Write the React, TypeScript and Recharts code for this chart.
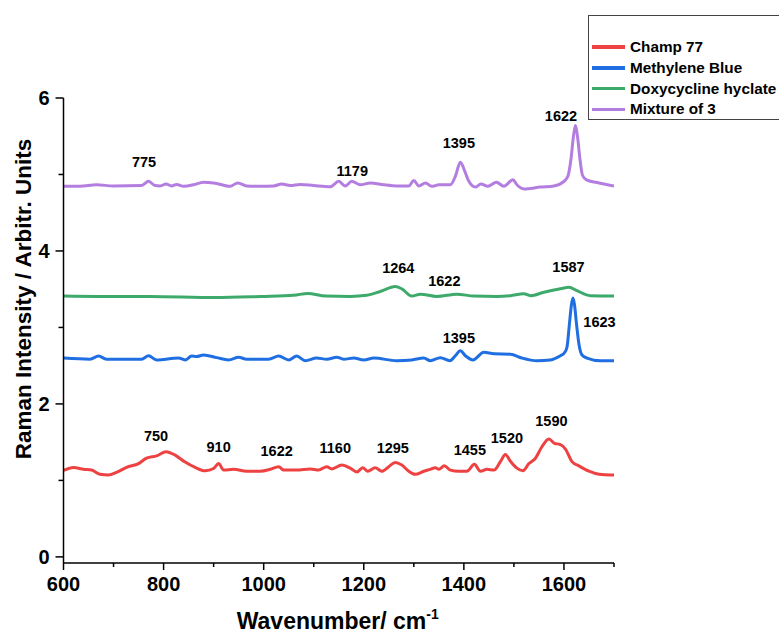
import React from 'react';
import { LineChart, Line, XAxis, YAxis, ReferenceDot } from 'recharts';

// Champ 77
const redWave = [600, 620, 640, 656, 673, 690, 706, 726, 750, 766, 786, 805, 823, 843, 863, 883, 900, 910, 920, 940, 966, 993, 1013, 1030, 1040, 1066, 1093, 1110, 1126, 1136, 1156, 1173, 1186, 1198, 1208, 1223, 1236, 1250, 1263, 1276, 1290, 1303, 1320, 1333, 1343, 1350, 1361, 1373, 1390, 1406, 1421, 1433, 1446, 1460, 1473, 1483, 1493, 1506, 1518, 1530, 1543, 1556, 1570, 1581, 1592, 1603, 1616, 1630, 1650, 1670, 1693, 1700];
const redInt = [1.13, 1.17, 1.145, 1.135, 1.08, 1.07, 1.105, 1.17, 1.22, 1.29, 1.32, 1.375, 1.33, 1.24, 1.17, 1.125, 1.155, 1.22, 1.135, 1.145, 1.12, 1.12, 1.145, 1.18, 1.135, 1.135, 1.15, 1.135, 1.18, 1.15, 1.2, 1.16, 1.11, 1.165, 1.12, 1.165, 1.12, 1.18, 1.235, 1.2, 1.12, 1.08, 1.12, 1.145, 1.165, 1.145, 1.19, 1.135, 1.12, 1.12, 1.21, 1.12, 1.145, 1.135, 1.245, 1.34, 1.25, 1.16, 1.125, 1.22, 1.29, 1.44, 1.54, 1.485, 1.47, 1.41, 1.245, 1.19, 1.12, 1.08, 1.07, 1.07];

// Methylene Blue
const blueWave = [600, 653, 670, 686, 756, 770, 786, 830, 843, 856, 866, 880, 906, 930, 950, 966, 1010, 1030, 1050, 1066, 1083, 1106, 1126, 1146, 1160, 1180, 1200, 1220, 1266, 1296, 1320, 1333, 1353, 1372, 1383, 1393, 1403, 1418, 1440, 1460, 1493, 1516, 1546, 1573, 1593, 1600, 1606, 1611, 1615, 1618, 1621, 1625, 1630, 1636, 1646, 1673, 1700];
const blueInt = [2.6, 2.585, 2.625, 2.585, 2.585, 2.63, 2.575, 2.6, 2.575, 2.625, 2.62, 2.64, 2.605, 2.575, 2.61, 2.585, 2.585, 2.625, 2.575, 2.625, 2.565, 2.6, 2.585, 2.61, 2.585, 2.6, 2.575, 2.6, 2.565, 2.575, 2.6, 2.565, 2.605, 2.565, 2.63, 2.695, 2.63, 2.575, 2.675, 2.655, 2.65, 2.6, 2.565, 2.575, 2.63, 2.66, 2.74, 3.05, 3.3, 3.385, 3.3, 3.05, 2.78, 2.64, 2.6, 2.565, 2.565];

// Doxycycline hyclate
const greenWave = [600, 665, 772, 902, 995, 1060, 1088, 1124, 1173, 1206, 1233, 1263, 1276, 1296, 1313, 1346, 1386, 1420, 1466, 1493, 1520, 1533, 1560, 1593, 1610, 1626, 1653, 1700];
const greenInt = [3.41, 3.405, 3.405, 3.39, 3.405, 3.42, 3.445, 3.41, 3.405, 3.42, 3.47, 3.535, 3.505, 3.41, 3.435, 3.405, 3.435, 3.41, 3.405, 3.415, 3.44, 3.415, 3.46, 3.505, 3.525, 3.48, 3.415, 3.41];

// Mixture of 3
const purpleWave = [600, 633, 666, 700, 756, 770, 783, 793, 805, 816, 826, 840, 860, 880, 900, 933, 948, 966, 993, 1020, 1036, 1053, 1073, 1100, 1133, 1150, 1163, 1176, 1193, 1213, 1240, 1266, 1290, 1300, 1310, 1323, 1336, 1350, 1373, 1383, 1393, 1402, 1410, 1423, 1434, 1448, 1465, 1480, 1498, 1506, 1520, 1553, 1580, 1600, 1608, 1614, 1619, 1623, 1627, 1632, 1637, 1645, 1666, 1700];
const purpleInt = [4.845, 4.845, 4.865, 4.85, 4.855, 4.91, 4.855, 4.85, 4.875, 4.85, 4.87, 4.845, 4.865, 4.9, 4.89, 4.845, 4.89, 4.85, 4.845, 4.85, 4.875, 4.855, 4.87, 4.855, 4.84, 4.91, 4.85, 4.91, 4.865, 4.89, 4.865, 4.85, 4.85, 4.92, 4.85, 4.89, 4.845, 4.865, 4.865, 4.975, 5.16, 5.04, 4.91, 4.835, 4.875, 4.845, 4.9, 4.845, 4.93, 4.865, 4.81, 4.835, 4.85, 4.91, 4.98, 5.2, 5.5, 5.64, 5.5, 5.2, 4.99, 4.93, 4.895, 4.85];

const seriesNames = ['Champ 77', 'Methylene Blue', 'Doxycycline hyclate', 'Mixture of 3'];
const seriesColors = ['#ee4242', '#1f6fe3', '#3daa6c', '#b47ee0'];

const xTicks = [600, 700, 800, 900, 1000, 1100, 1200, 1300, 1400, 1500, 1600, 1700];
const yTicks = [0, 1, 2, 3, 4, 5, 6];

// peak annotations: text, and where it sits (wavenumber, intensity)
const peakText = ['775', '1179', '1395', '1622', '1264', '1622', '1587', '1395', '1623', '750', '910', '1622', '1160', '1295', '1455', '1520', '1590'];
const peakWave = [761, 1177, 1390, 1594, 1269, 1361, 1609, 1390, 1671, 785, 910, 1026, 1143, 1258, 1412, 1486, 1575];
const peakHeight = [5.17, 5.05, 5.41, 5.77, 3.78, 3.61, 3.79, 2.87, 3.07, 1.58, 1.44, 1.38, 1.43, 1.43, 1.4, 1.55, 1.78];

const font = '"Liberation Sans", Arial, sans-serif';

const toPoints = (w: number[], v: number[]) => w.map((x, i) => ({ x, y: v[i] }));
const series = [
  toPoints(redWave, redInt),
  toPoints(blueWave, blueInt),
  toPoints(greenWave, greenInt),
  toPoints(purpleWave, purpleInt),
];

const XTick = (props: any) => {
  const { x, y, payload } = props;
  const major = payload.value % 200 === 0;
  return (
    <g>
      <line x1={x} x2={x} y1={y} y2={y + (major ? 7 : 4)} stroke="#000" strokeWidth={1.5} />
      {major && (
        <text x={x} y={y + 28} textAnchor="middle" fontSize={20} fontWeight={700} fontFamily={font} fill="#000">
          {payload.value}
        </text>
      )}
    </g>
  );
};

const YTick = (props: any) => {
  const { x, y, payload } = props;
  const major = payload.value % 2 === 0;
  return (
    <g>
      <line x1={x} x2={x - (major ? 8 : 5)} y1={y} y2={y} stroke="#000" strokeWidth={1.5} />
      {major && (
        <text x={x - 14} y={y + 7} textAnchor="end" fontSize={20} fontWeight={700} fontFamily={font} fill="#000">
          {payload.value}
        </text>
      )}
    </g>
  );
};

const XTitle = (props: any) => {
  const { x, width } = props.viewBox;
  return (
    <text x={x + width / 2 - 1} y={629} textAnchor="middle" fontSize={23} fontWeight={700} fontFamily={font} fill="#000">
      Wavenumber/ cm
      <tspan fontSize={14} dy={-10}>-1</tspan>
    </text>
  );
};

const YTitle = () => {
  const cy = 299;
  return (
    <text x={31} y={cy} transform={`rotate(-90, 31, ${cy})`} textAnchor="middle" fontSize={22.5} fontWeight={700} fontFamily={font} fill="#000">
      Raman Intensity / Arbitr. Units
    </text>
  );
};

const App: React.FC = () => {
  return (
    <div style={{ position: 'absolute', left: 0, top: 0, width: 779, height: 635, overflow: 'hidden', background: '#fff' }}>
      <LineChart width={779} height={635} margin={{ top: 98, right: 165, bottom: 42, left: 0 }}>
        <XAxis
          type="number"
          dataKey="x"
          domain={[600, 1700]}
          ticks={xTicks}
          interval={0}
          allowDataOverflow
          tickSize={0}
          tickMargin={0}
          tick={<XTick />}
          axisLine={{ stroke: '#000', strokeWidth: 1.5 }}
          height={30}
          label={{ content: <XTitle /> }}
        />
        <YAxis
          type="number"
          domain={[-0.08, 6]}
          ticks={yTicks}
          interval={0}
          allowDataOverflow
          tickSize={0}
          tickMargin={0}
          tick={<YTick />}
          axisLine={{ stroke: '#000', strokeWidth: 1.5 }}
          width={63.5}
          label={{ content: <YTitle /> }}
        />
        {series.map((d, i) => (
          <Line
            key={seriesNames[i]}
            data={d}
            dataKey="y"
            name={seriesNames[i]}
            type="monotone"
            stroke={seriesColors[i]}
            strokeWidth={3}
            dot={false}
            activeDot={false}
            isAnimationActive={false}
          />
        ))}
        {peakText.map((t, i) => (
          <ReferenceDot
            key={i}
            x={peakWave[i]}
            y={peakHeight[i]}
            r={0}
            fill="none"
            stroke="none"
            label={{ value: t, position: 'center', fill: '#000', fontSize: 14.5, fontWeight: 700, fontFamily: font }}
          />
        ))}
      </LineChart>
      <div
        style={{
          position: 'absolute',
          left: 588,
          top: 15,
          width: 191,
          height: 105,
          boxSizing: 'border-box',
          border: '1.5px solid #444',
          borderRight: 'none',
          fontFamily: font,
        }}
      >
        {seriesNames.map((n, i) => (
          <div key={n} style={{ position: 'absolute', left: 0, top: 21 + i * 20.8, height: 20, display: 'flex', alignItems: 'center' }}>
            <div style={{ marginLeft: 3, width: 33, height: 3.5, background: seriesColors[i] }} />
            <span style={{ marginLeft: 5, fontSize: 15.3, fontWeight: 700, color: '#000', whiteSpace: 'nowrap' }}>{n}</span>
          </div>
        ))}
      </div>
    </div>
  );
};

export default App;
